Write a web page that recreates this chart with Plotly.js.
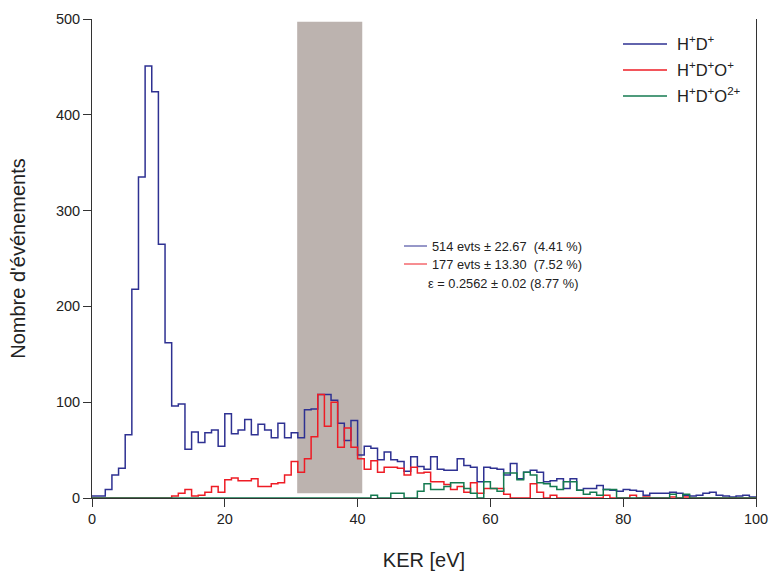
<!DOCTYPE html>
<html>
<head>
<meta charset="utf-8">
<script src="https://cdn.plot.ly/plotly-3.0.1.min.js"></script>
<style>html,body{margin:0;padding:0;background:#fff;}#chart{width:771px;height:571px;}</style>
</head>
<body>
<div id="chart"></div>
<script>
// KER bins: left edges in eV, 1 eV wide
const binLeft = Array.from({length: 100}, (_, i) => i);
const binWidth = 1;

const countsHD = [2,2,9,24,31,66,218,335,451,424,265,162,96,98,51,69,58,68,71,54,
  88,67,71,82,66,77,71,63,78,63,68,63,92,93,108,108,102,78,60,81,
  45,54,52,40,48,40,38,28,43,33,30,43,30,29,29,41,34,32,17,32,
  31,30,24,36,20,27,29,27,17,18,20,10,20,8,10,10,13,9,8,7,
  9,8,7,3,5,5,5,6,5,3,2,3,5,6,3,2,1,2,3,1];

const countsHDO = [0,0,0,0,0,0,0,0,0,0,0,0,2,5,9,2,3,6,12,6,
  19,21,18,18,20,12,12,15,16,24,38,27,41,64,108,75,100,53,73,53,
  41,30,39,27,32,32,31,24,32,26,27,17,17,14,9,12,6,16,5,10,
  10,10,4,0,0,0,15,6,0,3,0,0,0,0,0,0,0,3,0,0,
  0,3,0,1,0,0,0,1,0,1,0,0,0,0,0,0,0,0,0,0];

const countsHDO2 = [0,0,0,0,0,0,0,0,0,0,0,0,0,0,0,0,0,0,0,0,
  0,0,0,0,0,0,0,0,0,0,0,0,0,0,0,0,0,0,0,0,
  0,0,3,0,0,5,5,0,0,7,15,9,9,12,16,16,10,5,0,17,
  10,7,26,26,19,27,24,16,15,12,9,17,17,8,4,6,3,9,9,0,
  0,0,0,0,0,0,0,4,0,4,0,0,0,0,0,0,0,0,0,0];

const seriesNames = ['H<sup>+</sup>D<sup>+</sup>', 'H<sup>+</sup>D<sup>+</sup>O<sup>+</sup>', 'H<sup>+</sup>D<sup>+</sup>O<sup>2+</sup>'];
const seriesColors = ['#2e3192', '#ee1c25', '#147a50'];
const window_eV = [30.9, 40.7];
const statLines = ['514 evts ± 22.67&nbsp;&nbsp;(4.41 %)', '177 evts ± 13.30&nbsp;&nbsp;(7.52 %)', 'ε = 0.2562 ± 0.02 (8.77 %)'];

function stepTrace(counts, name, color) {
  const x = binLeft.concat([binLeft[binLeft.length - 1] + binWidth]);
  const y = counts.concat([counts[counts.length - 1]]);
  return {x: x, y: y, type: 'scatter', mode: 'lines', name: name,
    line: {shape: 'hv', color: color, width: 1.5}, hoverinfo: 'skip'};
}

const traces = [
  stepTrace(countsHD, seriesNames[0], seriesColors[0]),
  stepTrace(countsHDO, seriesNames[1], seriesColors[1]),
  stepTrace(countsHDO2, seriesNames[2], seriesColors[2])
];

const fnt = 'Liberation Sans, Arial, Helvetica, sans-serif';
const px2x = p => (p - 92) / 664;
const px2y = p => (498 - p) / 479;

const shapes = [
  {type: 'rect', xref: 'x', yref: 'y', x0: window_eV[0], x1: window_eV[1], y0: 5, y1: 497,
   fillcolor: '#bcb3af', line: {width: 0}, layer: 'below'},
  {type: 'line', xref: 'paper', yref: 'paper', x0: px2x(404), x1: px2x(427), y0: px2y(246), y1: px2y(246),
   line: {color: seriesColors[0], width: 1}},
  {type: 'line', xref: 'paper', yref: 'paper', x0: px2x(404), x1: px2x(427), y0: px2y(264), y1: px2y(264),
   line: {color: seriesColors[1], width: 1}}
];

const annotations = statLines.map((t, i) => ({
  xref: 'paper', yref: 'paper', x: px2x(i < 2 ? 430 : 426), y: px2y([246, 264, 283][i]),
  xanchor: 'left', yanchor: 'middle', showarrow: false, text: t,
  font: {family: fnt, size: 12.8, color: '#222'}
}));

// legend drawn by hand: key lines + labels
const legendY = [44, 70, 96];
seriesNames.forEach((nm, i) => {
  shapes.push({type: 'line', xref: 'paper', yref: 'paper', x0: px2x(623), x1: px2x(667),
    y0: px2y(legendY[i]), y1: px2y(legendY[i]), line: {color: seriesColors[i], width: 1.5}});
  annotations.push({xref: 'paper', yref: 'paper', x: px2x(675), y: px2y(legendY[i] - 1),
    xanchor: 'left', yanchor: 'middle', showarrow: false, text: nm,
    font: {family: fnt, size: 16.5, color: '#222'}});
});

const layout = {
  width: 771, height: 571,
  margin: {l: 92, r: 15, t: 19, b: 73},
  paper_bgcolor: '#fff', plot_bgcolor: '#fff',
  font: {family: fnt, color: '#222'},
  showlegend: false,
  xaxis: {range: [0, 100], tickvals: [0, 20, 40, 60, 80, 100], ticks: 'outside', ticklen: 8,
    tickcolor: '#333', showline: true, linecolor: '#333', linewidth: 1, showgrid: false, zeroline: false,
    tickfont: {size: 14.5, family: fnt, color: '#222'},
    title: {text: 'KER [eV]', font: {size: 20, family: fnt, color: '#222'}, standoff: 27}},
  yaxis: {range: [0, 500], tickvals: [0, 100, 200, 300, 400, 500], ticks: 'outside', ticklen: 8,
    tickcolor: '#333', showline: true, linecolor: '#333', linewidth: 1, mirror: true, showgrid: false, zeroline: false,
    tickfont: {size: 14.5, family: fnt, color: '#222'},
    title: {text: "Nombre d'événements", font: {size: 20, family: fnt, color: '#222'}, standoff: 24}},
  shapes: shapes,
  annotations: annotations
};

Plotly.newPlot('chart', traces, layout, {displayModeBar: false, staticPlot: true});
</script>
</body>
</html>
